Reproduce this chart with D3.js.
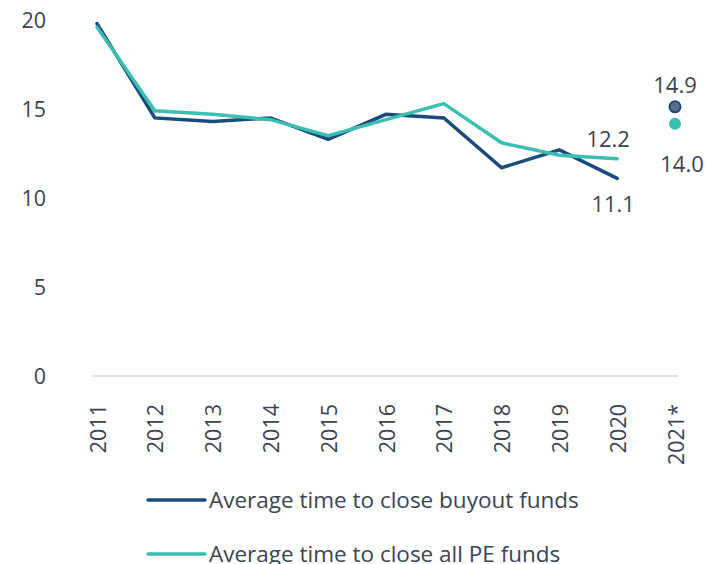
<!DOCTYPE html>
<html>
<head>
<meta charset="utf-8">
<script src="https://cdn.jsdelivr.net/npm/d3@7"></script>
<style>
  body { margin: 0; background: #fff; }
  svg text { font-family: "Open Sans", "Noto Sans", sans-serif; fill: #3b4453; }
</style>
</head>
<body>
<svg width="720" height="564"></svg>
<script>
var years = ["2011", "2012", "2013", "2014", "2015", "2016", "2017", "2018", "2019", "2020", "2021*"];
var buyout = [19.8, 14.5, 14.3, 14.5, 13.3, 14.7, 14.5, 11.7, 12.7, 11.1];
var allPE = [19.6, 14.9, 14.7, 14.4, 13.5, 14.4, 15.3, 13.1, 12.4, 12.2];
var buyout2021 = 14.9,
    allPE2021 = 14.0;
var yTicks = [0, 5, 10, 15, 20];
var seriesNames = ["Average time to close buyout funds", "Average time to close all PE funds"];

var svg = d3.select("svg"),
    width = +svg.attr("width"),
    height = +svg.attr("height"),
    colBuy = "#1b4a7c",
    colPE = "#3bbfb0";

var x = d3.scalePoint()
    .domain(years)
    .range([97, 675]);

var y = d3.scaleLinear()
    .domain([0, 20])
    .range([376, 20]);

// baseline
svg.append("line")
  .attr("x1", 92)
  .attr("x2", 678)
  .attr("y1", y(0))
  .attr("y2", y(0))
  .attr("stroke", "#d9d9d9")
  .attr("stroke-width", 1.5);

// y tick labels
svg.selectAll(".ytick")
  .data(yTicks)
  .enter().append("text")
    .attr("class", "ytick")
    .attr("x", 46)
    .attr("y", function(d) { return y(d); })
    .attr("dy", "0.35em")
    .attr("text-anchor", "end")
    .style("font-size", "21.5px")
    .text(function(d) { return d; });

// x tick labels (rotated)
svg.selectAll(".xtick")
  .data(years)
  .enter().append("text")
    .attr("class", "xtick")
    .attr("transform", function(d) { return "translate(" + (x(d) + 1) + ",404)rotate(-90)"; })
    .attr("dy", "0.35em")
    .attr("text-anchor", "end")
    .style("font-size", "21.5px")
    .text(function(d) { return d; });

var line = d3.line()
    .x(function(d, i) { return x(years[i]); })
    .y(function(d) { return y(d); });

svg.append("path")
  .datum(buyout)
  .attr("fill", "none")
  .attr("stroke", colBuy)
  .attr("stroke-width", 3.5)
  .attr("stroke-linecap", "round")
  .attr("d", line);

svg.append("path")
  .datum(allPE)
  .attr("fill", "none")
  .attr("stroke", colPE)
  .attr("stroke-width", 3.5)
  .attr("stroke-linecap", "round")
  .attr("d", line);

// 2021 dots
svg.append("circle")
  .attr("cx", x("2021*"))
  .attr("cy", y(buyout2021) - 4)
  .attr("r", 5.5)
  .attr("fill", "#5b6f8a")
  .attr("stroke", colBuy)
  .attr("stroke-width", 2);

svg.append("circle")
  .attr("cx", x("2021*"))
  .attr("cy", y(allPE2021) - 3)
  .attr("r", 6)
  .attr("fill", colPE);

// value labels
var labels = [
  { v: allPE[9], x: x("2020") - 9, y: y(allPE[9]) - 20 },
  { v: buyout[9], x: x("2020") - 4, y: y(buyout[9]) + 26 },
  { v: buyout2021, x: x("2021*"), y: y(buyout2021) - 25 },
  { v: allPE2021, x: x("2021*") + 7, y: y(allPE2021) + 37 }
];
svg.selectAll(".vlabel")
  .data(labels)
  .enter().append("text")
    .attr("class", "vlabel")
    .attr("x", function(d) { return d.x; })
    .attr("y", function(d) { return d.y; })
    .attr("dy", "0.35em")
    .attr("text-anchor", "middle")
    .style("font-size", "22px")
    .text(function(d) { return d3.format(".1f")(d.v); });

// legend
var legend = svg.selectAll(".legend")
  .data(seriesNames)
  .enter().append("g")
    .attr("class", "legend")
    .attr("transform", function(d, i) { return "translate(148," + (500 + i * 54) + ")"; });

legend.append("line")
  .attr("x1", 0)
  .attr("x2", 57)
  .attr("stroke", function(d, i) { return i === 0 ? colBuy : colPE; })
  .attr("stroke-width", 3.5)
  .attr("stroke-linecap", "round");

legend.append("text")
  .attr("x", 61)
  .attr("dy", "0.35em")
  .style("font-size", "22.5px")
  .text(function(d) { return d; });
</script>
</body>
</html>
